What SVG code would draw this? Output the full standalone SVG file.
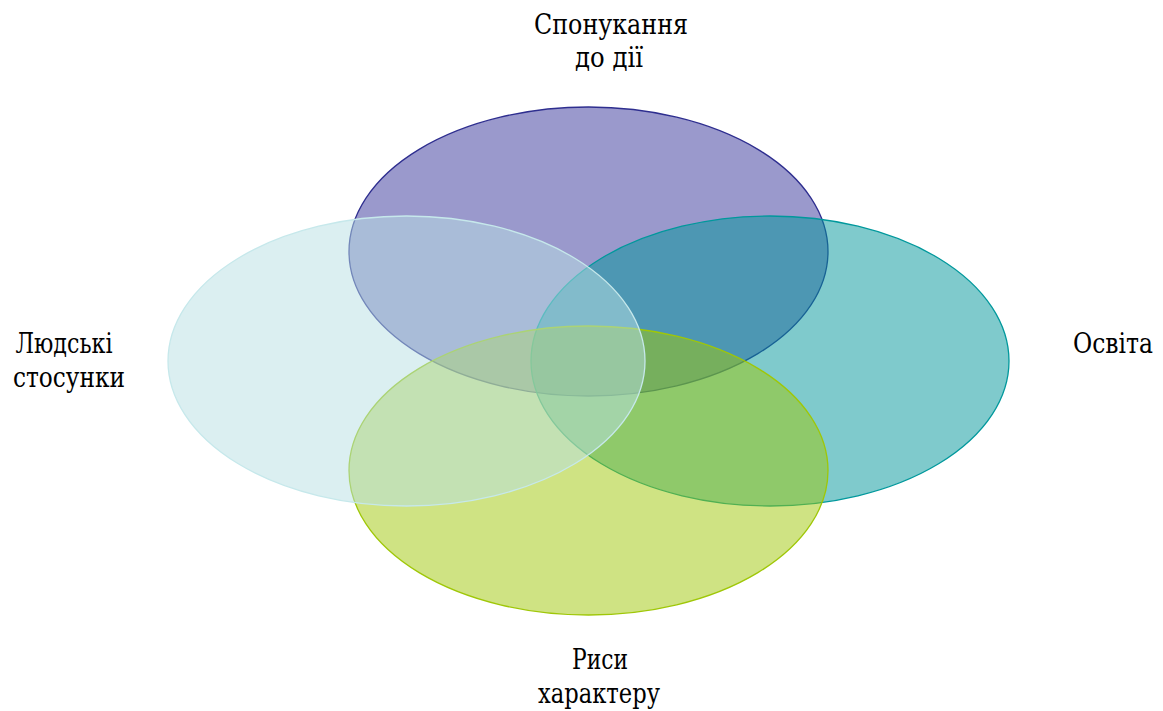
<svg xmlns="http://www.w3.org/2000/svg" width="1163" height="711" viewBox="0 0 1163 711">
<style>
text{font-family:'DejaVu Serif','Liberation Serif',serif;font-size:27px;fill:#000;text-anchor:middle}
ellipse{stroke-width:1.3}
</style>
<rect width="1163" height="711" fill="#fff"/>
<g id="top">
<ellipse cx="588.5" cy="251.5" rx="239.5" ry="144.5" fill="#353399" fill-opacity="0.5" stroke="#2e2e8f"/>
<text x="611" y="34" textLength="154" lengthAdjust="spacingAndGlyphs">Спонукання</text>
<text x="609" y="67" textLength="68" lengthAdjust="spacingAndGlyphs">до дії</text>
</g>
<g id="right">
<ellipse cx="770" cy="361" rx="239" ry="145" fill="#009599" fill-opacity="0.5" stroke="#00989c"/>
<text x="1113" y="353" font-size="24" textLength="80" lengthAdjust="spacingAndGlyphs">Освіта</text>
</g>
<g id="bottom">
<ellipse cx="588.5" cy="470.5" rx="239.5" ry="144.5" fill="#9fc707" fill-opacity="0.5" stroke="#9fc707"/>
<text x="600" y="669" textLength="56" lengthAdjust="spacingAndGlyphs">Риси</text>
<text x="599" y="703" textLength="122" lengthAdjust="spacingAndGlyphs">характеру</text>
</g>
<g id="left">
<ellipse cx="406.5" cy="361" rx="238.5" ry="145" fill="#b7dfe3" fill-opacity="0.5" stroke="#c6e8eb"/>
<text x="64" y="353" textLength="97" lengthAdjust="spacingAndGlyphs">Людські</text>
<text x="69" y="387" textLength="112" lengthAdjust="spacingAndGlyphs">стосунки</text>
</g>
<g id="connectors"/>
</svg>
